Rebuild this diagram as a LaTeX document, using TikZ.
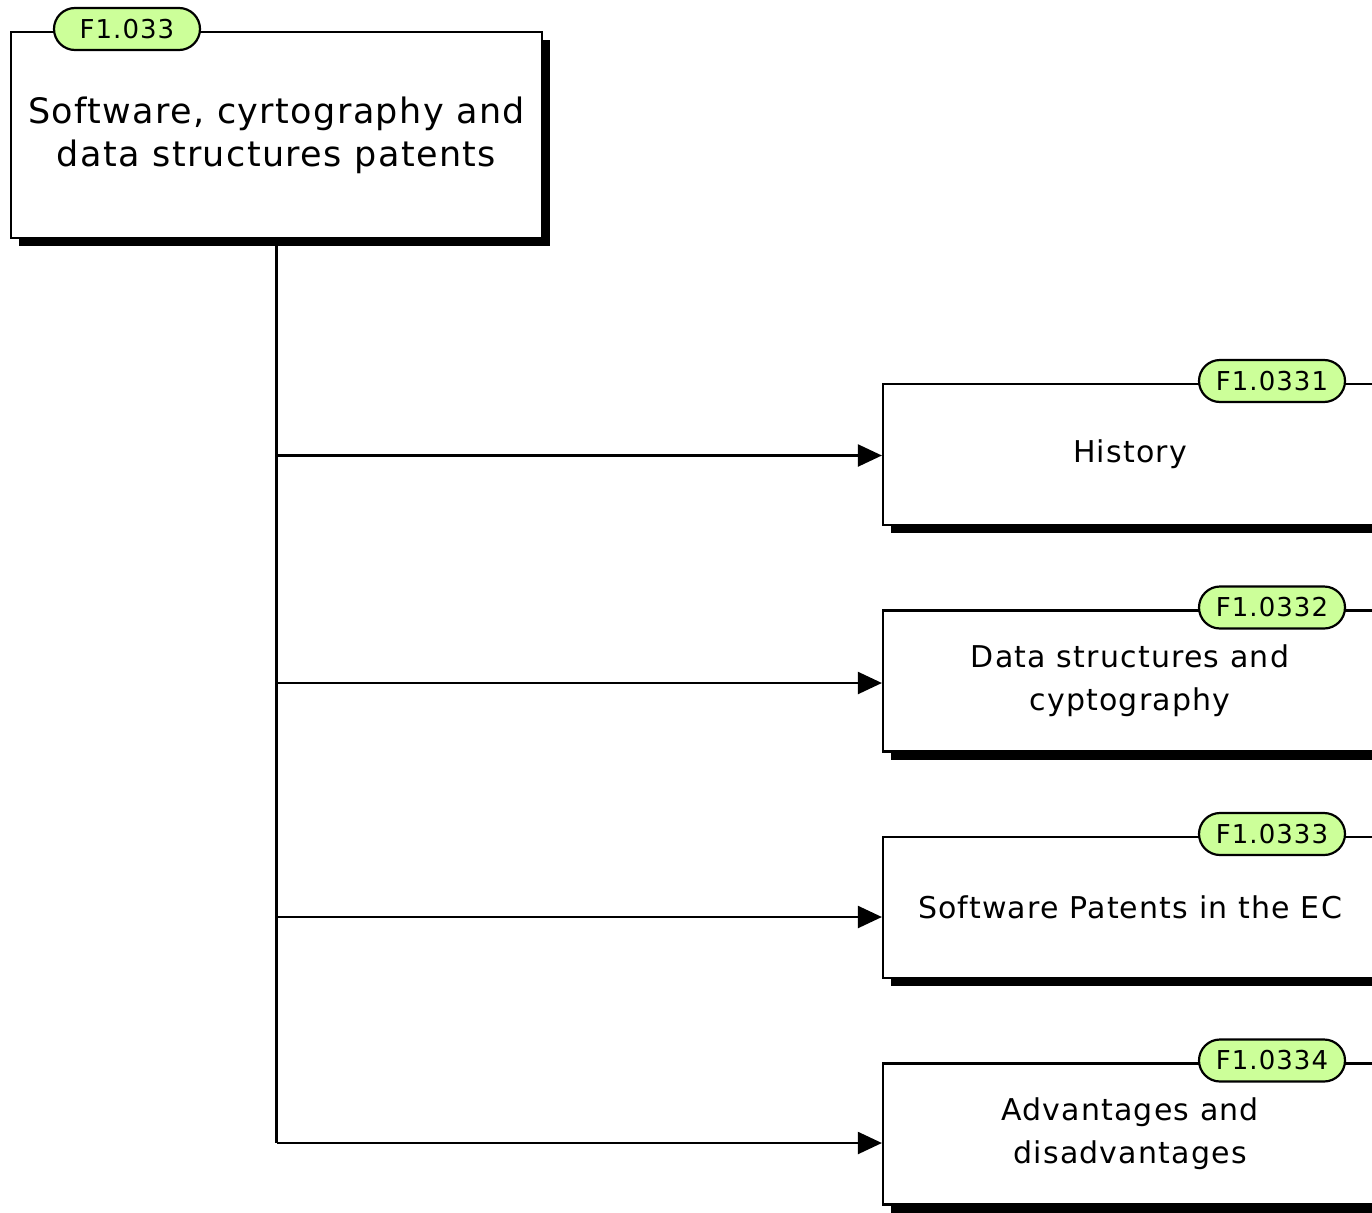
\documentclass[tikz,border=0pt]{standalone}
\usepackage{fontspec}
\setmainfont{DejaVu Sans}[LetterSpace=4]
\usetikzlibrary{arrows.meta,positioning,shapes.misc,shadows}
\definecolor{tagfill}{HTML}{CCFF99}

\begin{document}
\begin{tikzpicture}[x=1pt,y=-1pt,
  box/.style={draw,line width=2.2pt,fill=white,align=center,
    drop shadow={shadow xshift=8pt,shadow yshift=-8pt,opacity=1,fill=black}},
  subbox/.style={box,minimum width=494pt,minimum height=141pt,
    font=\fontsize{30}{43}\selectfont},
  tag/.style={rounded rectangle,draw,line width=2.2pt,fill=tagfill,
    minimum width=146pt,minimum height=42pt,inner sep=0pt,
    font=\fontsize{26}{30}\selectfont},
  link/.style={line width=2.2pt,-{Triangle[length=24pt,width=22pt]}}]
\useasboundingbox (0,0) rectangle (1372,1212);
\fill[white] (0,0) rectangle (1372,1212);

\node[box,minimum width=531pt,minimum height=206pt,
  font=\fontsize{35}{43}\selectfont] (root) at (276.5,135)
  {Software, cyrtography and\\data structures patents};
\node[tag] (rootid) at (127,29) {F1.033};

% sub topics, y of box centre / y of incoming arrow
\foreach \y/\ay/\id/\txt [count=\i] in {
    454.5/455.5/F1.0331/History,
    681/683/F1.0332/{Data structures and\\cyptography},
    907.5/917/F1.0333/Software Patents in the EC,
    1134/1143/F1.0334/{Advantages and\\disadvantages}}{
  \node[subbox] (sub\i) at (1130,\y) {\txt};
  \node[tag] (subid\i) at (1272,\y-73.5) {\id};
  \coordinate (in\i) at (sub\i.west |- 0,\ay);
  \draw[link] (root.south |- in\i) -- (in\i);
}
\draw[line width=2.2pt] (root.south) -- (root.south |- in4);
\end{tikzpicture}
\end{document}
